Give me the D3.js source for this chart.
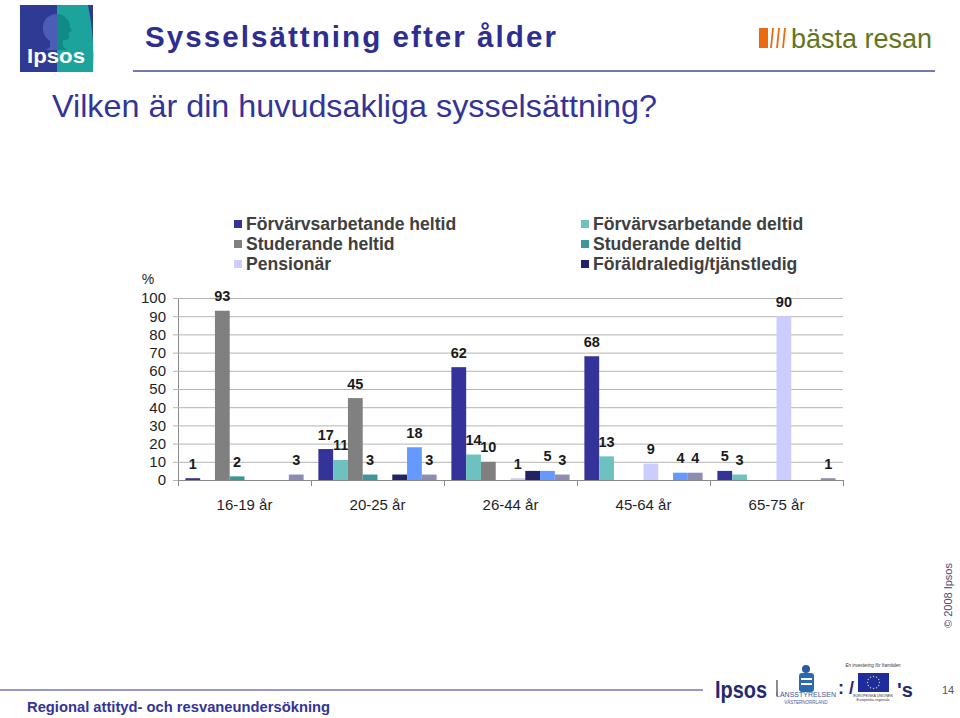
<!DOCTYPE html>
<html><head><meta charset="utf-8">
<script src="https://cdn.jsdelivr.net/npm/d3@7"></script>
<style>
body{margin:0;background:#fff}
svg{display:block}
text{font-family:Arial,"Liberation Sans",Helvetica,sans-serif}
</style>
</head><body>
<script>
// ---------- data ----------
const categories = ["16-19 år","20-25 år","26-44 år","45-64 år","65-75 år"];
const seriesNames = ["Förvärvsarbetande heltid","Förvärvsarbetande deltid","Studerande heltid","Studerande deltid","Pensionär","Föräldraledig/tjänstledig","Arbetslös","Annat"];
const forvHeltid    = [1, 17, 62, 68, 5];
const forvDeltid    = [0, 11, 14, 13, 3];
const studHeltid    = [93, 45, 10, 0, 0];
const studDeltid    = [2, 3, 0, 0, 0];
const pensionar     = [0, 0, 1, 9, 90];
const foraldraledig = [0, 3, 5, 0, 0];
const arbetslos     = [0, 18, 5, 4, 0];
const annat         = [3, 3, 3, 4, 1];
const seriesValues = [forvHeltid, forvDeltid, studHeltid, studDeltid, pensionar, foraldraledig, arbetslos, annat];
const showLabels   = [true, true, true, true, true, false, true, true];
const legendSeries = [0, 1, 2, 3, 4, 5];
const yTicks = [0,10,20,30,40,50,60,70,80,90,100];

// ---------- styles ----------
const colors = ["#333399","#6EC1C1","#808080","#3A9898","#CCCCFF","#222266","#6699FF","#8C8CB4"];
const W = 960, H = 718;
const navy = "#333399";

const svg = d3.select("body").append("svg").attr("width", W).attr("height", H);

// ---------- header ----------
const logo = svg.append("g");
logo.append("rect").attr("x",20).attr("y",5).attr("width",73).attr("height",67).attr("fill","#2E3A94");
logo.append("path").attr("d","M57,5 L88,5 Q95,38 93,72 L57,72 Z").attr("fill","#1BA39C");
logo.append("path").attr("d","M57,14 C47,14 42,22 43,30 C44,36 47,39 50,41 L50,47 L46,50 L57,50 Z").attr("fill","#4B5DB8");
logo.append("path").attr("d","M57,14 C64,14 70,20 70,27 L72,31 L69,32 L69,37 C69,40 66,40 63,40 L63,46 L67,50 L57,50 Z").attr("fill","#0F8A85");
logo.append("text").attr("x",56).attr("y",63).attr("text-anchor","middle").attr("fill","#fff")
  .attr("font-size",21).attr("font-weight","bold").attr("textLength",58).attr("lengthAdjust","spacingAndGlyphs").text("Ipsos");

svg.append("text").attr("x",145).attr("y",47).attr("fill","#2E2E90").attr("font-size",29).attr("font-weight","bold")
  .attr("textLength",413).attr("lengthAdjust","spacingAndGlyphs").style("letter-spacing","2px").text("Sysselsättning efter ålder");
svg.append("line").attr("x1",133).attr("x2",935).attr("y1",71).attr("y2",71).attr("stroke","#4A4AA0").attr("stroke-width",1.5);
svg.append("text").attr("x",52).attr("y",117).attr("fill",navy).attr("font-size",32)
  .attr("textLength",605).attr("lengthAdjust","spacingAndGlyphs").text("Vilken är din huvudsakliga sysselsättning?");

// bästa resan logo
const br = svg.append("g");
br.append("rect").attr("x",759).attr("y",28).attr("width",9).attr("height",20).attr("fill","#EE6A12");
[0,1,2].forEach(i=>{
  br.append("line").attr("x1",771+i*6).attr("y1",48).attr("x2",773+i*6).attr("y2",28).attr("stroke","#EE6A12").attr("stroke-width",1.8);
});
br.append("text").attr("x",791).attr("y",48).attr("fill","#61761C").attr("font-size",27)
  .attr("textLength",141).attr("lengthAdjust","spacingAndGlyphs").text("bästa resan");

// ---------- chart ----------
const plot = {left:178, right:843, top:298, bottom:480};
const x0 = d3.scaleBand().domain(categories).range([plot.left, plot.right]).paddingInner(0).paddingOuter(0);
const x1 = d3.scaleBand().domain(d3.range(seriesValues.length)).range([0, x0.bandwidth()]).paddingInner(0).paddingOuter(0.5);
const y = d3.scaleLinear().domain([0,100]).range([plot.bottom, plot.top]);

const yAxis = d3.axisLeft(y).tickValues(yTicks).tickSize(-(plot.right-plot.left)).tickPadding(12).tickSizeOuter(0);
const gy = svg.append("g").attr("transform",`translate(${plot.left},0)`).call(yAxis);
gy.select(".domain").attr("stroke","#8a8a8a");
gy.selectAll(".tick line").attr("stroke","#b4b4b4").attr("x1",-5);
gy.selectAll(".tick text").attr("font-size",15).attr("fill","#1e1e2a").attr("font-family","Arial, 'Liberation Sans', sans-serif");
svg.append("text").attr("x",148).attr("y",284).attr("text-anchor","middle").attr("font-size",14).attr("fill","#1e1e2a").text("%");

const groups = svg.append("g").selectAll("g").data(categories).join("g")
  .attr("transform", c => `translate(${x0(c)},0)`);
groups.selectAll("rect").data((c,ci) => seriesValues.map((vals,si)=>({si, v: vals[ci]}))).join("rect")
  .filter(d => d.v > 0)
  .attr("x", d => x1(d.si)).attr("width", x1.bandwidth())
  .attr("y", d => y(d.v)).attr("height", d => y(0)-y(d.v))
  .attr("fill", d => colors[d.si]);
groups.selectAll("text.lbl").data((c,ci) => seriesValues.map((vals,si)=>({si, v: vals[ci]})).filter(d => d.v > 0 && showLabels[d.si]))
  .join("text").attr("class","lbl")
  .attr("x", d => x1(d.si) + x1.bandwidth()/2).attr("y", d => y(d.v) - 9.5)
  .attr("text-anchor","middle").attr("font-size",14.5).attr("font-weight","bold").attr("fill","#1a1a1a")
  .text(d => d.v);

svg.append("line").attr("x1",plot.left).attr("x2",plot.right).attr("y1",plot.bottom+0.5).attr("y2",plot.bottom+0.5).attr("stroke","#8a8a8a");
const bounds = categories.map(c => x0(c)).concat([plot.right]);
svg.append("g").selectAll("line").data(bounds).join("line")
  .attr("x1", d=>d+0.5).attr("x2", d=>d+0.5).attr("y1", plot.bottom).attr("y2", plot.bottom+6).attr("stroke","#8a8a8a");
svg.append("g").selectAll("text").data(categories).join("text")
  .attr("x", c => x0(c) + x0.bandwidth()/2).attr("y", 510).attr("text-anchor","middle")
  .attr("font-size",15).attr("fill","#1e1e2a").text(c => c);

// legend
const legPos = [[234,224],[581,224],[234,244],[581,244],[234,264],[581,264]];
const leg = svg.append("g").selectAll("g").data(legendSeries).join("g")
  .attr("transform",(d,i)=>`translate(${legPos[i][0]},${legPos[i][1]})`);
leg.append("rect").attr("x",0).attr("y",-4).attr("width",8).attr("height",8).attr("fill", d=>colors[d]);
leg.append("text").attr("x",12).attr("y",6).attr("font-size",17.6).attr("font-weight","bold").attr("fill","#404040")
  .text(d => seriesNames[d]);

// ---------- footer ----------
svg.append("line").attr("x1",0).attr("x2",703).attr("y1",690).attr("y2",690).attr("stroke",navy).attr("stroke-width",1.2);
svg.append("text").attr("x",27).attr("y",712).attr("fill",navy).attr("font-size",15).attr("font-weight","bold")
  .attr("textLength",303).attr("lengthAdjust","spacingAndGlyphs").text("Regional attityd- och resvaneundersökning");
svg.append("text").attr("x",715).attr("y",698).attr("fill","#1F2A70").attr("font-size",24).attr("font-weight","bold")
  .attr("textLength",52).attr("lengthAdjust","spacingAndGlyphs").text("Ipsos");
svg.append("rect").attr("x",776).attr("y",680).attr("width",2).attr("height",16).attr("fill","#8a8a99");
svg.append("circle").attr("cx",806).attr("cy",669).attr("r",4).attr("fill","#2a5aa0");
svg.append("rect").attr("x",799).attr("y",673).attr("width",15).attr("height",19).attr("rx",3).attr("fill","#2a6ab0");
svg.append("rect").attr("x",801).attr("y",678).attr("width",11).attr("height",2).attr("fill","#fff");
svg.append("rect").attr("x",801).attr("y",683).attr("width",11).attr("height",2).attr("fill","#fff");
svg.append("text").attr("x",806).attr("y",697).attr("text-anchor","middle").attr("fill","#3a5a9a").attr("font-size",7).text("LÄNSSTYRELSEN");
svg.append("text").attr("x",806).attr("y",704).attr("text-anchor","middle").attr("fill","#3a5a9a").attr("font-size",4.5).text("VÄSTERNORRLAND");
svg.append("text").attr("x",838).attr("y",694).attr("fill","#1F2A70").attr("font-size",18).attr("font-weight","bold").text(": /");
svg.append("text").attr("x",873).attr("y",667).attr("text-anchor","middle").attr("fill","#333").attr("font-size",4.5).attr("font-style","italic").text("En investering för framtiden");
svg.append("rect").attr("x",858).attr("y",673).attr("width",31).attr("height",19).attr("fill","#1D2DA0");
d3.range(12).forEach(i=>{
  const a = i/12*2*Math.PI;
  svg.append("circle").attr("cx",873.5+6*Math.cos(a)).attr("cy",682.5+6*Math.sin(a)).attr("r",0.7).attr("fill","#FFD200");
});
svg.append("text").attr("x",873).attr("y",697).attr("text-anchor","middle").attr("fill","#333").attr("font-size",3.5).text("EUROPEISKA UNIONEN");
svg.append("text").attr("x",873).attr("y",701).attr("text-anchor","middle").attr("fill","#333").attr("font-size",3.5).text("Europeiska regionala");
svg.append("text").attr("x",897).attr("y",697).attr("fill","#1F2A70").attr("font-size",20).attr("font-weight","bold").text("'s");
svg.append("text").attr("x",942).attr("y",694).attr("fill","#555").attr("font-size",11).text("14");
svg.append("text").attr("transform","translate(952,628) rotate(-90)").attr("fill","#4a4a7a").attr("font-size",11).text("© 2008 Ipsos");
</script>
</body></html>
